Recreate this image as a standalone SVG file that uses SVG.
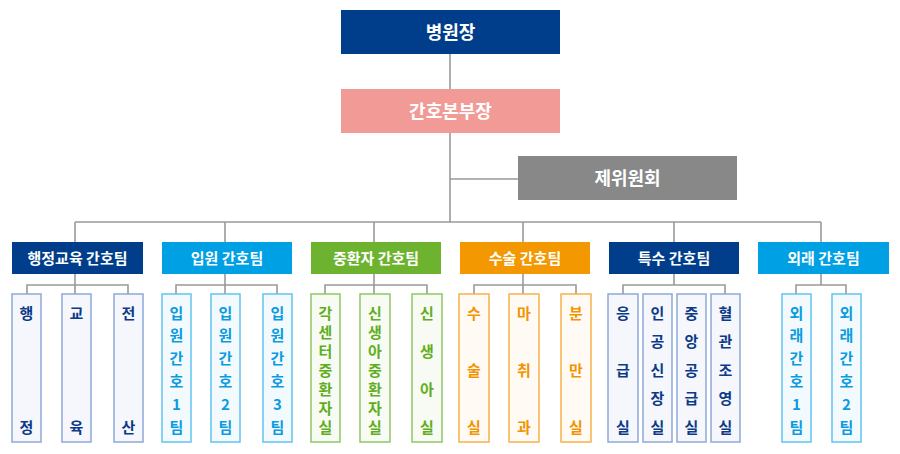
<svg xmlns="http://www.w3.org/2000/svg" width="900" height="454" viewBox="0 0 900 454">
<style>
text{font-family:"Noto Sans CJK KR","Noto Sans",sans-serif;font-weight:bold;text-anchor:middle}
.t1{font-size:18px;fill:#fff}
.t2{font-size:15px;fill:#fff}
.st{font-size:15px}
.ln{stroke:#9a9a9a;stroke-width:1.6;fill:none}
.navy{fill:#003e8b}
.sky{fill:#00a0e4}
.green{fill:#6db32f}
.orange{fill:#f39800}
.sn rect{fill:#f6f7fc;stroke:#8da9d8;stroke-width:1.5}
.sn text{fill:#0b3a87}
.ss rect{fill:#f3fafe;stroke:#62c3ef;stroke-width:1.5}
.ss text{fill:#0b9be0}
.sg rect{fill:#f7fbf3;stroke:#8fc765;stroke-width:1.5}
.sg text{fill:#5fae22}
.so rect{fill:#fffaf4;stroke:#f7b14c;stroke-width:1.5}
.so text{fill:#f29300}
</style>
<g id="connectors" class="ln">
<path d="M450 54V89M450 133V222M450 179H518M75 222H821"/>
<path d="M75 222V242M225 222V242M374 222V242M523 222V242M674 222V242M821 222V242"/>
<path d="M75 274V294M27 294V285H128V294"/>
<path d="M225 274V294M176 294V285H277V294"/>
<path d="M374 274V294M325 294V285H427V294"/>
<path d="M523 274V294M474 294V285H576V294"/>
<path d="M674 274V285M623 294V285H725V294"/>
<path d="M821 274V285M796 294V285H846V294"/>
</g>
<g id="n-director"><rect x="341" y="10" width="219" height="44" class="navy"/><text x="450.5" y="38.5" class="t1">병원장</text></g>
<g id="n-nursing"><rect x="341" y="89" width="219" height="44" fill="#f29b96"/><text x="450.5" y="117.5" class="t1">간호본부장</text></g>
<g id="n-committee"><rect x="518" y="156" width="219" height="44" fill="#888888"/><text x="627.5" y="184.5" class="t1">제위원회</text></g>

<g id="team-admin"><rect x="12" y="242" width="131" height="32" class="navy"/><text x="77.5" y="263.5" class="t2">행정교육 간호팀</text></g>
<g id="team-inpatient"><rect x="162" y="242" width="130" height="32" class="sky"/><text x="227" y="263.5" class="t2">입원 간호팀</text></g>
<g id="team-icu"><rect x="311" y="242" width="130" height="32" class="green"/><text x="376" y="263.5" class="t2">중환자 간호팀</text></g>
<g id="team-surgery"><rect x="460" y="242" width="130" height="32" class="orange"/><text x="525" y="263.5" class="t2">수술 간호팀</text></g>
<g id="team-special"><rect x="609" y="242" width="130" height="32" class="navy"/><text x="674" y="263.5" class="t2">특수 간호팀</text></g>
<g id="team-outpatient"><rect x="758" y="242" width="131" height="32" class="sky"/><text x="823.5" y="263.5" class="t2">외래 간호팀</text></g>

<g id="s-admin1" class="sn"><rect x="12" y="294" width="29" height="148"/><text class="st"><tspan x="26.5" y="318.5">행</tspan><tspan x="26.5" y="432.5">정</tspan></text></g>
<g id="s-admin2" class="sn"><rect x="62" y="294" width="29" height="148"/><text class="st"><tspan x="76.5" y="318.5">교</tspan><tspan x="76.5" y="432.5">육</tspan></text></g>
<g id="s-admin3" class="sn"><rect x="114" y="294" width="29" height="148"/><text class="st"><tspan x="128.5" y="318.5">전</tspan><tspan x="128.5" y="432.5">산</tspan></text></g>

<g id="s-in1" class="ss"><rect x="162" y="294" width="29" height="148"/><text class="st"><tspan x="176.5" y="318.5">입</tspan><tspan x="176.5" y="341.3">원</tspan><tspan x="176.5" y="364.1">간</tspan><tspan x="176.5" y="386.9">호</tspan><tspan x="176.5" y="409.7">1</tspan><tspan x="176.5" y="432.5">팀</tspan></text></g>
<g id="s-in2" class="ss"><rect x="211" y="294" width="29" height="148"/><text class="st"><tspan x="225.5" y="318.5">입</tspan><tspan x="225.5" y="341.3">원</tspan><tspan x="225.5" y="364.1">간</tspan><tspan x="225.5" y="386.9">호</tspan><tspan x="225.5" y="409.7">2</tspan><tspan x="225.5" y="432.5">팀</tspan></text></g>
<g id="s-in3" class="ss"><rect x="263" y="294" width="29" height="148"/><text class="st"><tspan x="277.5" y="318.5">입</tspan><tspan x="277.5" y="341.3">원</tspan><tspan x="277.5" y="364.1">간</tspan><tspan x="277.5" y="386.9">호</tspan><tspan x="277.5" y="409.7">3</tspan><tspan x="277.5" y="432.5">팀</tspan></text></g>

<g id="s-icu1" class="sg"><rect x="311" y="294" width="29" height="148"/><text class="st"><tspan x="325.5" y="318.5">각</tspan><tspan x="325.5" y="337.5">센</tspan><tspan x="325.5" y="356.5">터</tspan><tspan x="325.5" y="375.5">중</tspan><tspan x="325.5" y="394.5">환</tspan><tspan x="325.5" y="413.5">자</tspan><tspan x="325.5" y="432.5">실</tspan></text></g>
<g id="s-icu2" class="sg"><rect x="360" y="294" width="30" height="148"/><text class="st"><tspan x="375" y="318.5">신</tspan><tspan x="375" y="337.5">생</tspan><tspan x="375" y="356.5">아</tspan><tspan x="375" y="375.5">중</tspan><tspan x="375" y="394.5">환</tspan><tspan x="375" y="413.5">자</tspan><tspan x="375" y="432.5">실</tspan></text></g>
<g id="s-icu3" class="sg"><rect x="412" y="294" width="30" height="148"/><text class="st"><tspan x="427" y="318.5">신</tspan><tspan x="427" y="356.5">생</tspan><tspan x="427" y="394.5">아</tspan><tspan x="427" y="432.5">실</tspan></text></g>

<g id="s-op1" class="so"><rect x="459" y="294" width="30" height="148"/><text class="st"><tspan x="474" y="318.5">수</tspan><tspan x="474" y="375.5">술</tspan><tspan x="474" y="432.5">실</tspan></text></g>
<g id="s-op2" class="so"><rect x="509" y="294" width="30" height="148"/><text class="st"><tspan x="524" y="318.5">마</tspan><tspan x="524" y="375.5">취</tspan><tspan x="524" y="432.5">과</tspan></text></g>
<g id="s-op3" class="so"><rect x="561" y="294" width="30" height="148"/><text class="st"><tspan x="576" y="318.5">분</tspan><tspan x="576" y="375.5">만</tspan><tspan x="576" y="432.5">실</tspan></text></g>

<g id="s-sp1" class="sn"><rect x="608" y="294" width="30" height="148"/><text class="st"><tspan x="623" y="318.5">응</tspan><tspan x="623" y="375.5">급</tspan><tspan x="623" y="432.5">실</tspan></text></g>
<g id="s-sp2" class="sn"><rect x="643" y="294" width="29" height="148"/><text class="st"><tspan x="657.5" y="318.5">인</tspan><tspan x="657.5" y="347">공</tspan><tspan x="657.5" y="375.5">신</tspan><tspan x="657.5" y="404">장</tspan><tspan x="657.5" y="432.5">실</tspan></text></g>
<g id="s-sp3" class="sn"><rect x="677" y="294" width="29" height="148"/><text class="st"><tspan x="691.5" y="318.5">중</tspan><tspan x="691.5" y="347">앙</tspan><tspan x="691.5" y="375.5">공</tspan><tspan x="691.5" y="404">급</tspan><tspan x="691.5" y="432.5">실</tspan></text></g>
<g id="s-sp4" class="sn"><rect x="711" y="294" width="29" height="148"/><text class="st"><tspan x="725.5" y="318.5">혈</tspan><tspan x="725.5" y="347">관</tspan><tspan x="725.5" y="375.5">조</tspan><tspan x="725.5" y="404">영</tspan><tspan x="725.5" y="432.5">실</tspan></text></g>

<g id="s-out1" class="ss"><rect x="782" y="294" width="29" height="148"/><text class="st"><tspan x="796.5" y="318.5">외</tspan><tspan x="796.5" y="341.3">래</tspan><tspan x="796.5" y="364.1">간</tspan><tspan x="796.5" y="386.9">호</tspan><tspan x="796.5" y="409.7">1</tspan><tspan x="796.5" y="432.5">팀</tspan></text></g>
<g id="s-out2" class="ss"><rect x="832" y="294" width="29" height="148"/><text class="st"><tspan x="846.5" y="318.5">외</tspan><tspan x="846.5" y="341.3">래</tspan><tspan x="846.5" y="364.1">간</tspan><tspan x="846.5" y="386.9">호</tspan><tspan x="846.5" y="409.7">2</tspan><tspan x="846.5" y="432.5">팀</tspan></text></g>
</svg>
